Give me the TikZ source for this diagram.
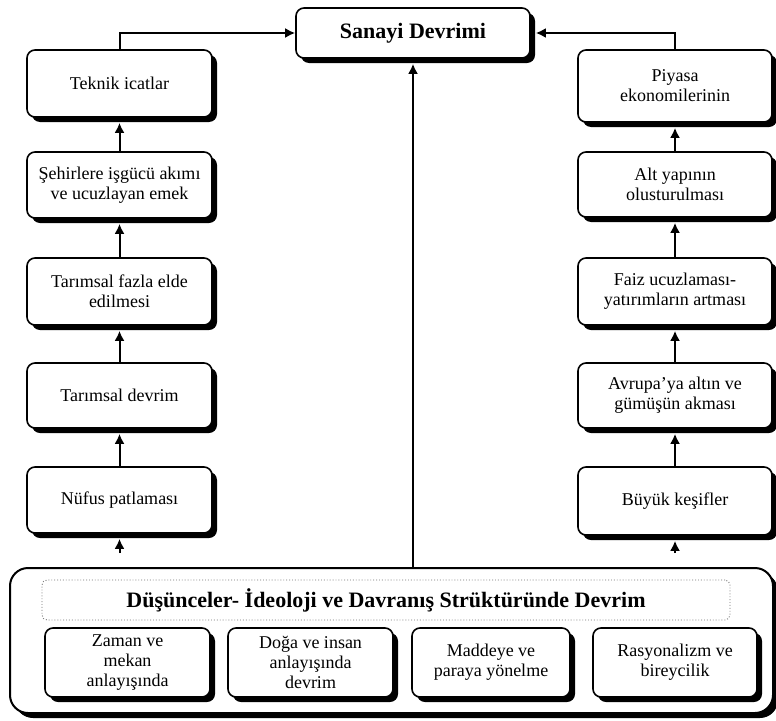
\documentclass[tikz,border=0pt]{standalone}
\usepackage{fontspec}
\setmainfont{Liberation Serif}
\usetikzlibrary{arrows.meta,shapes,shadows}

\tikzset{
  stage/.style={draw, line width=1.6pt, rounded corners=8pt, fill=white, align=center, inner sep=0pt,
    font=\fontsize{18}{20}\selectfont,
    drop shadow={shadow xshift=5pt, shadow yshift=-5pt, fill=black, opacity=1}},
  flow/.style={line width=2pt, -{Latex[length=10pt,width=10pt]}},
  lift/.style={flow, shorten >=5pt}
}

\begin{document}
\begin{tikzpicture}[x=1pt,y=-1pt]

\useasboundingbox (0,0) rectangle (776,720);

\node[stage, minimum width=234pt, minimum height=50pt, font=\fontsize{22}{24}\selectfont\bfseries] (sanayi) at (413,33) {Sanayi Devrimi};

\node[stage, minimum width=185pt, minimum height=67pt] (teknik) at (119.5,83.5) {Teknik icatlar};
\node[stage, minimum width=185pt, minimum height=66pt] (sehir) at (119.5,185) {Şehirlere işgücü akımı\\ve ucuzlayan emek};
\node[stage, minimum width=185pt, minimum height=67pt] (fazla) at (119.5,291.5) {Tarımsal fazla elde\\edilmesi};
\node[stage, minimum width=185pt, minimum height=65pt] (tdevrim) at (119.5,395.5) {Tarımsal devrim};
\node[stage, minimum width=185pt, minimum height=66pt] (nufus) at (119.5,500) {Nüfus patlaması};

\node[stage, minimum width=194pt, minimum height=72pt] (piyasa) at (675,86) {Piyasa\\ekonomilerinin};
\node[stage, minimum width=194pt, minimum height=65pt] (altyapi) at (675,184.5) {Alt yapının\\olusturulması};
\node[stage, minimum width=194pt, minimum height=67pt] (faiz) at (675,291.5) {Faiz ucuzlaması-\\yatırımların artması};
\node[stage, minimum width=194pt, minimum height=65pt] (avrupa) at (675,395.5) {Avrupa'ya altın ve\\gümüşün akması};
\node[stage, minimum width=194pt, minimum height=68pt] (kesif) at (675,501) {Büyük keşifler};

\node[stage, line width=2pt, rounded corners=18pt, minimum width=763pt, minimum height=145pt,
  drop shadow={shadow xshift=4pt, shadow yshift=-4pt, fill=black, opacity=1}] (temel) at (391.5,640.5) {};
\node[draw=black!55, dotted, line width=0.9pt, rounded corners=5pt, minimum width=688pt, minimum height=40pt,
  font=\fontsize{22}{24}\selectfont\bfseries] (baslik) at (386,600) {Düşünceler- İdeoloji ve Davranış Strüktüründe Devrim};

\node[stage, minimum width=165pt, minimum height=69pt] (zaman) at (127.5,662.5) {Zaman ve\\mekan\\anlayışında};
\node[stage, minimum width=165pt, minimum height=69pt] (doga) at (310.5,662.5) {Doğa ve insan\\anlayışında\\devrim};
\node[stage, minimum width=158pt, minimum height=69pt] (madde) at (491,662.5) {Maddeye ve\\paraya yönelme};
\node[stage, minimum width=164pt, minimum height=69pt] (rasyo) at (675,662.5) {Rasyonalizm ve\\bireycilik};

\coordinate (lfoot) at (119.5,553);
\coordinate (rfoot) at (675,553);

\draw[lift] (lfoot) -- (nufus);
\draw[lift] (nufus) -- (tdevrim);
\draw[lift] (tdevrim) -- (fazla);
\draw[lift] (fazla) -- (sehir);
\draw[lift] (sehir) -- (teknik);
\draw[flow] (teknik.north) |- (sanayi.west);

\draw[lift] (rfoot) -- (kesif);
\draw[lift] (kesif) -- (avrupa);
\draw[lift] (avrupa) -- (faiz);
\draw[lift] (faiz) -- (altyapi);
\draw[lift] (altyapi) -- (piyasa);
\draw[lift] (piyasa.north) |- (sanayi.east);

\draw[lift] (temel.north -| sanayi.south) -- (sanayi.south);

\end{tikzpicture}
\end{document}
